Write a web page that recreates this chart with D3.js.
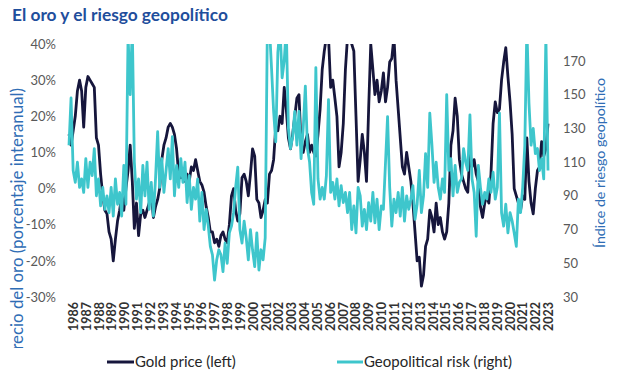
<!DOCTYPE html>
<html><head><meta charset="utf-8">
<script src="https://cdn.jsdelivr.net/npm/d3@7"></script>
<style>body{margin:0;background:#fff}svg{display:block}</style>
</head><body><svg id="c" width="622" height="392"></svg>
<script>
const yearLabels = ["1986","1987","1988","1989","1990","1991","1992","1993","1994","1995","1996","1997","1998","1999","2000","2001","2002","2003","2004","2005","2006","2007","2008","2009","2010","2011","2012","2013","2014","2015","2016","2017","2018","2019","2020","2021","2022","2023"];
const sampleMonths = [0,2,4,6,8,10];
// Gold price, % y/y (left axis), six readings per year
const goldYoY = [
 15,12,16,20,27,30,  27,17,28,31,30,29,  28,14,12,4,-2,-6,  -7,-12,-14,-20,-14,-9,
 -6,-2,-6,0,5,12,  2,-11,-4,-13,-7,-6,  -8,-6,-4,-2,-8,-5,  -3,0,8,12,14,17,
 18,17,15,11,4,3,  4,2,4,2,6,5,  8,5,2,1,-1,-5,  -8,-12,-12,-15,-14,-16,
 -13,-12,-14,-15,-10,-2,  0,-6,-9,-7,3,4,  2,-2,4,11,9,-3,  -4,-8,-6,-3,-4,4,
 5,8,17,16,20,18,  28,22,14,11,15,20,  25,26,12,10,13,15,  10,12,10,9,15,22,
 33,38,42,42,28,30,  25,20,6,10,18,33,  42,42,40,38,20,2,  8,15,10,2,22,40,
 33,26,30,24,27,32,  24,28,35,36,42,30,  22,14,6,4,10,6,  2,-4,-12,-20,-19,-27,
 -24,-16,-14,-6,-8,-12,  -4,-10,-8,-12,-14,-12,  -4,12,16,25,20,8,  4,2,0,-1,10,6,
 8,4,2,-5,-8,-4,  -2,-4,4,18,24,21,  22,30,35,39,31,24,  15,0,-2,-4,-6,-2,
 -3,14,2,-4,-7,0,  5,6,13,9,11,18
];
// Geopolitical risk index (right axis)
const geoRisk = [
 120,148,105,98,110,95,  100,92,112,95,110,102,  118,90,100,84,95,82,  90,80,95,78,100,85,
 92,78,108,85,185,150,  190,110,88,100,80,108,  90,110,82,98,78,100,  128,95,112,92,105,118,
 100,125,90,108,95,112,  98,110,86,102,82,95,  88,100,75,92,70,82,  72,60,55,40,52,58,
 55,45,62,50,68,72,  80,95,107,70,62,75,  65,52,70,58,48,68,  46,58,52,65,190,190,
 165,140,122,175,190,160,  170,190,130,118,125,140,  120,140,112,130,155,118,  110,92,85,166,100,88,
 95,88,102,147,92,98,  88,100,84,96,86,92,  80,92,70,84,68,95,  90,72,82,70,86,75,
 92,74,88,70,84,82,  110,137,95,72,88,80,  92,78,95,75,90,82,  88,96,76,85,105,80,
 90,115,95,139,120,98,  110,95,88,100,92,150,  105,112,90,108,92,98,  100,118,110,105,138,100,
 92,66,108,95,85,92,  88,100,92,104,88,95,  139,80,72,85,68,80,  75,68,60,88,80,95,
 120,190,145,120,130,115,  118,105,112,100,185,105
];
const leftTicks = [-30,-20,-10,0,10,20,30,40];
const rightTicks = [30,50,70,90,110,130,150,170];
const seriesNames = ["Gold price (left)","Geopolitical risk (right)"];
const colors = ["#16163c","#3ec6cc"];

const dates = yearLabels.flatMap(y => sampleMonths.map(m => new Date(+y, m, 1)));
const gold = dates.map((d,i)=>({date:d, v:goldYoY[i]}));
const geo = dates.map((d,i)=>({date:d, v:geoRisk[i]}));

const svg = d3.select("#c");
const FONT = "Lato, 'Open Sans', sans-serif";
function fit(sel, target){ const w = sel.node().getComputedTextLength(); const fs = parseFloat(sel.style("font-size")); sel.style("font-size", (fs*target/w)+"px"); }

const x = d3.scaleTime().domain([dates[0], dates[dates.length-1]]).range([69,548]);
const xBand = d3.scaleBand().domain(yearLabels).range([67,555]);
const yL = d3.scaleLinear().domain([-30,40]).range([297,44]);
const yR = d3.scaleLinear().domain([30,180]).range([297,44]);

// title
const t = svg.append("text").attr("x",12).attr("y",21).text("El oro y el riesgo geopolítico")
  .style("font-family",FONT).style("font-weight","bold").style("font-size","16px").attr("fill","#1f4e9c");
fit(t,216);

// left axis
const gl = svg.append("g").attr("transform","translate(56,0)")
  .call(d3.axisLeft(yL).tickValues(leftTicks).tickFormat(d=>d+"%").tickSize(0).tickPadding(0));
gl.select(".domain").remove();
gl.selectAll("text").style("font-family",FONT).style("font-size","13px").attr("fill","#595959");

// right axis
const gr = svg.append("g").attr("transform","translate(563,0)")
  .call(d3.axisRight(yR).tickValues(rightTicks).tickSize(0).tickPadding(0));
gr.select(".domain").remove();
gr.selectAll("text").style("font-family",FONT).style("font-size","13px").attr("fill","#595959");

// x axis
const gx = svg.append("g").attr("transform","translate(0,301)")
  .call(d3.axisBottom(xBand).tickSize(0).tickPadding(0));
gx.select(".domain").remove();
gx.selectAll("text").attr("transform","rotate(-90)").attr("x",-1).attr("y",0).attr("dy","0.36em")
  .style("text-anchor","end").style("font-family",FONT).style("font-weight","bold").style("font-size","12.5px").attr("fill","#333");

// axis titles
svg.append("clipPath").attr("id","ltc").append("rect").attr("x",0).attr("y",0).attr("width",40).attr("height",348);
const lt = svg.append("g").attr("clip-path","url(#ltc)").append("text")
  .attr("transform","translate(17,88) rotate(-90)").style("text-anchor","end")
  .attr("dy","0.35em").text("Precio del oro (porcentaje interanual)")
  .style("font-family",FONT).style("font-size","14px").attr("fill","#2f6db5");
fit(lt,272);
const rt = svg.append("text").attr("transform","translate(600,163) rotate(-90)").style("text-anchor","middle")
  .attr("dy","0.35em").text("Índice de riesgo geopolítico")
  .style("font-family",FONT).style("font-size","13px").attr("fill","#2f6db5");
fit(rt,170);

// lines
svg.append("clipPath").attr("id","pc").append("rect").attr("x",60).attr("y",44).attr("width",500).attr("height",253);
const plot = svg.append("g").attr("clip-path","url(#pc)");
plot.append("path").datum(gold).attr("fill","none").attr("stroke",colors[0]).attr("stroke-width",2.8)
  .attr("stroke-linejoin","round").attr("d", d3.line().x(d=>x(d.date)).y(d=>yL(d.v)));
plot.append("path").datum(geo).attr("fill","none").attr("stroke",colors[1]).attr("stroke-width",2.8)
  .attr("stroke-linejoin","round").attr("d", d3.line().x(d=>x(d.date)).y(d=>yR(d.v)));

// legend
const legendItems = [{x1:107,x2:134,tx:135,w:101},{x1:337,x2:363,tx:364,w:148}];
legendItems.forEach((l,i)=>{
  svg.append("line").attr("x1",l.x1).attr("x2",l.x2).attr("y1",362).attr("y2",362).attr("stroke",colors[i]).attr("stroke-width",3);
  const tx = svg.append("text").attr("x",l.tx).attr("y",362).attr("dy","0.35em").text(seriesNames[i])
    .style("font-family",FONT).style("font-size","14px").attr("fill","#262626");
  fit(tx,l.w);
});
</script></body></html>
